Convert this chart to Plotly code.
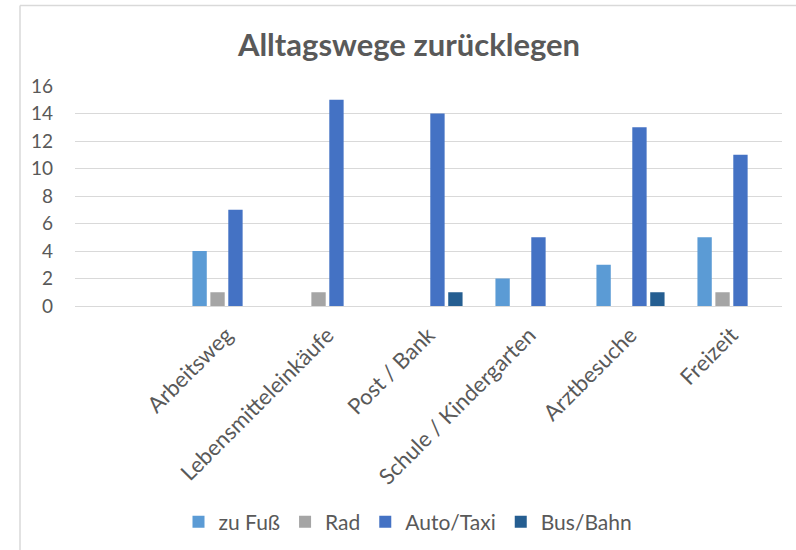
import plotly.graph_objects as go

categories = [" ", "Arbeitsweg", "Lebensmitteleinkäufe", "Post / Bank",
              "Schule / Kindergarten", "Arztbesuche", "Freizeit"]
zu_fuss = [None, 4, 0, 0, 2, 3, 5]
rad = [None, 1, 1, 0, 0, 0, 1]
auto_taxi = [None, 7, 15, 14, 5, 13, 11]
bus_bahn = [None, 0, 0, 1, 0, 1, 0]

series = [
    ("zu Fuß", zu_fuss, "#5B9BD5"),
    ("Rad", rad, "#A5A5A5"),
    ("Auto/Taxi", auto_taxi, "#4472C4"),
    ("Bus/Bahn", bus_bahn, "#255E91"),
]

W, H = 796, 550
L, R, T, B = 75, 14, 86, 244

fig = go.Figure()
for name, vals, col in series:
    fig.add_trace(go.Bar(x=categories, y=vals, name=name,
                         marker=dict(color=col, line=dict(width=0))))

font = "Lato, Carlito, Calibri, sans-serif"
grey = "#595959"

def px(x):
    return (x - L) / (W - L - R)

def py(y):
    return (H - B - y) / (H - T - B)

fig.update_layout(
    width=W, height=H,
    margin=dict(l=L, r=R, t=T, b=B, pad=0, autoexpand=False),
    paper_bgcolor="white", plot_bgcolor="white",
    barmode="group", bargap=0.29, bargroupgap=0.2,
    font=dict(family=font, color=grey, size=19),
    title=dict(text="<b>Alltagswege zurücklegen</b>", x=409 / W, xref="container",
               xanchor="center", y=1 - 45 / H, yanchor="middle", yref="container",
               font=dict(size=31, color=grey, family=font)),
    legend=dict(orientation="h", x=408 / W, xref="container", xanchor="center",
                y=1 - 522 / H, yref="container", yanchor="middle",
                font=dict(size=21, color=grey), itemwidth=30,
                traceorder="normal"),
    showlegend=True,
    xaxis=dict(type="category", tickangle=-45, showgrid=False, showline=False,
               ticks="", tickfont=dict(size=22, color=grey), zeroline=False,
               automargin=False, ticklabelstandoff=11),
    yaxis=dict(range=[0, 16], dtick=2, showgrid=True, gridcolor="#D9D9D9",
               gridwidth=1.3, zeroline=True, zerolinecolor="#D9D9D9",
               zerolinewidth=1.3, showline=False, ticks="", automargin=False,
               ticklabelstandoff=21, tickfont=dict(size=19, color=grey)),
    shapes=[
        dict(type="line", xref="paper", yref="paper",
             x0=px(20), x1=px(20), y0=py(550), y1=py(5.5),
             line=dict(color="#D9D9D9", width=1.5)),
        dict(type="line", xref="paper", yref="paper",
             x0=px(20), x1=px(800), y0=py(5.5), y1=py(5.5),
             line=dict(color="#D9D9D9", width=1.5)),
    ],
)

fig.write_html("out.html", config={"displayModeBar": False},
               post_script="document.body.style.margin='0';document.body.style.overflow='hidden';")
